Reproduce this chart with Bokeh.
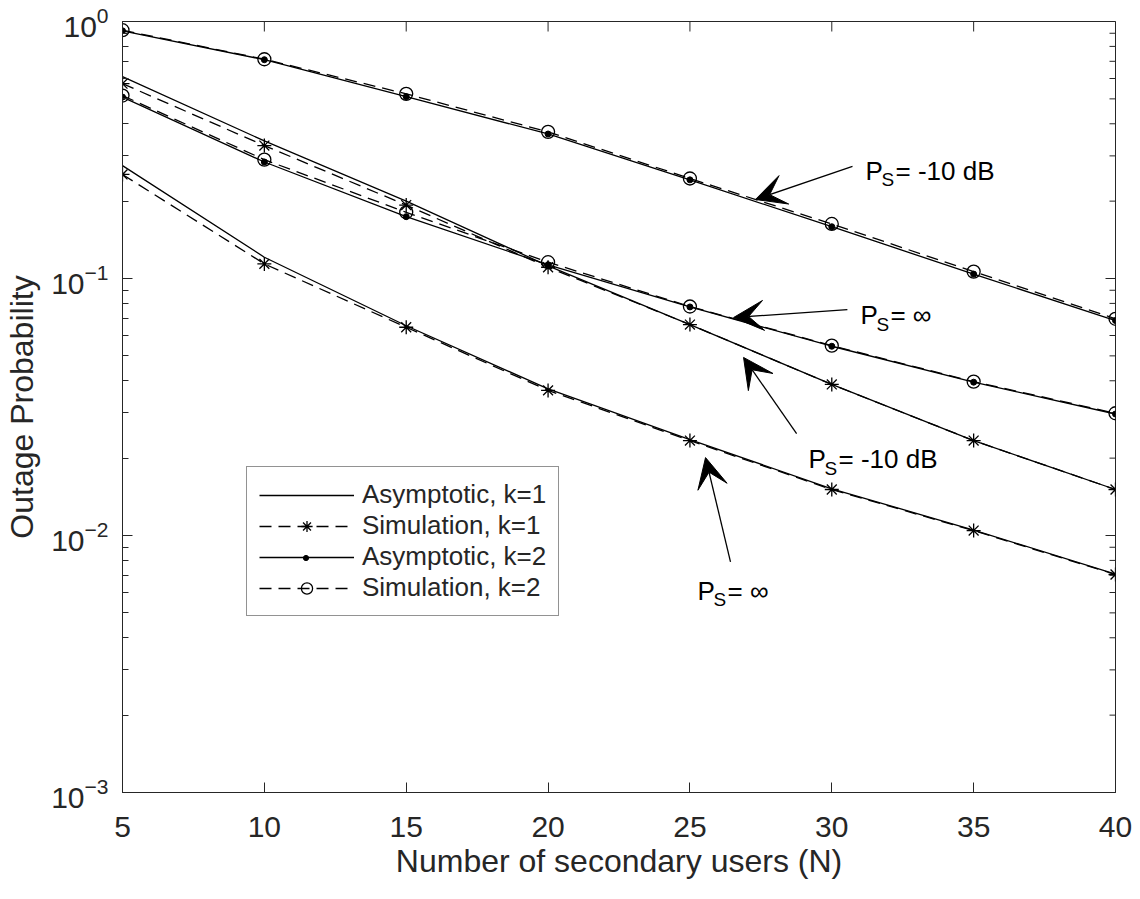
import math
from bokeh.plotting import figure
from bokeh.models import (FixedTicker, Arrow, VeeHead, Label, Legend, LegendItem, Range1d)
from bokeh.embed import file_html
from bokeh.resources import INLINE

# ---------------- data ----------------
N = [5, 10, 15, 20, 25, 30, 35, 40]

# k = 1, Ps = -10 dB
asym_k1_m10 = [0.61, 0.343, 0.200, 0.112, 0.0662, 0.0387, 0.0234, 0.0151]
sim_k1_m10 = [0.573, 0.329, 0.193, 0.1106, 0.0662, 0.0387, 0.0234, 0.0151]
# k = 1, Ps = inf
asym_k1_inf = [0.275, 0.121, 0.0655, 0.0372, 0.0236, 0.0152, 0.0105, 0.00708]
sim_k1_inf = [0.254, 0.114, 0.0646, 0.0367, 0.0234, 0.0151, 0.01045, 0.00705]
# k = 2, Ps = -10 dB
asym_k2_m10 = [0.92, 0.71, 0.51, 0.365, 0.242, 0.159, 0.104, 0.0686]
sim_k2_m10 = [0.925, 0.713, 0.523, 0.372, 0.245, 0.163, 0.1064, 0.0697]
# k = 2, Ps = inf
asym_k2_inf = [0.508, 0.284, 0.174, 0.113, 0.0775, 0.0545, 0.0395, 0.0297]
sim_k2_inf = [0.515, 0.290, 0.181, 0.1157, 0.0778, 0.0548, 0.0397, 0.0299]

x_ticks = [5, 10, 15, 20, 25, 30, 35, 40]
y_ticks = [1e-3, 1e-2, 1e-1, 1.0]
y_minor = [m * 10.0 ** e for e in (-3, -2, -1) for m in range(2, 10)]

legend_labels = ["Asymptotic, k=1", "Simulation, k=1", "Asymptotic, k=2", "Simulation, k=2"]

# ---------------- style ----------------
FONT = "Liberation Sans"
AX = "#262626"
LW = 1.3
DASH = "12 7"

p = figure(width=1140, height=899, x_range=Range1d(5, 40), y_range=Range1d(1e-3, 1.0),
           y_axis_type="log", output_backend="svg", toolbar_location=None,
           min_border_left=122, min_border_right=25, min_border_top=21,
           min_border_bottom=107, background_fill_color="white",
           border_fill_color="white")
p.grid.visible = False
p.outline_line_color = AX
p.outline_line_width = 1

for ax in p.xaxis + p.yaxis:
    ax.axis_line_color = AX
    ax.axis_line_width = 1
    ax.major_tick_line_color = AX
    ax.minor_tick_line_color = AX
    ax.major_tick_in = 10
    ax.major_tick_out = 0
    ax.minor_tick_in = 6
    ax.minor_tick_out = 0
    ax.major_label_text_color = AX
    ax.major_label_text_font = FONT
    ax.major_label_text_font_size = "30px"
    ax.axis_label_text_font = FONT
    ax.axis_label_text_color = AX
    ax.axis_label_text_font_style = "normal"
    ax.axis_label_text_font_size = "32px"

p.xaxis.ticker = FixedTicker(ticks=x_ticks, minor_ticks=[])
p.yaxis.ticker = FixedTicker(ticks=y_ticks, minor_ticks=y_minor)
p.xaxis.major_label_standoff = 24
p.yaxis.major_label_standoff = 14
p.xaxis.axis_label = "Number of secondary users (N)"
p.yaxis.axis_label = "Outage Probability"
p.xaxis.axis_label_standoff = 3
p.yaxis.axis_label_standoff = 8

# box ticks on the top and right edges (dash markers centred on the edge, clipped by the frame)
p.scatter(x_ticks, [1.0] * len(x_ticks), marker="dash", size=20, angle=math.pi / 2,
          line_color=AX, line_width=1)
p.scatter([40] * len(y_ticks), y_ticks, marker="dash", size=20,
          line_color=AX, line_width=1)
p.scatter([40] * len(y_minor), y_minor, marker="dash", size=12,
          line_color=AX, line_width=1)

# ---------------- curves ----------------
def asym_k1(y):
    return p.line(N, y, line_color="black", line_width=LW)

def sim_k1(y):
    l = p.line(N, y, line_color="black", line_width=LW, line_dash=DASH)
    s = p.scatter(N, y, marker="asterisk", size=14, line_color="black", line_width=1.3)
    return l, s

def asym_k2(y):
    l = p.line(N, y, line_color="black", line_width=LW)
    s = p.scatter(N, y, marker="circle", size=6, line_color="black", fill_color="black")
    return l, s

def sim_k2(y):
    l = p.line(N, y, line_color="black", line_width=LW, line_dash=DASH)
    s = p.scatter(N, y, marker="circle", size=13, line_color="black", fill_color=None,
                  line_width=1.3)
    return l, s

a1 = asym_k1(asym_k1_m10)
asym_k1(asym_k1_inf)
s1 = sim_k1(sim_k1_m10)
sim_k1(sim_k1_inf)
a2 = asym_k2(asym_k2_m10)
asym_k2(asym_k2_inf)
s2 = sim_k2(sim_k2_m10)
sim_k2(sim_k2_inf)

LEG_X, LEG_Y, PAD, GW = 124, 176, 12, 95
legend = Legend(items=[
    LegendItem(label=legend_labels[0], renderers=[a1]),
    LegendItem(label=legend_labels[1], renderers=list(s1)),
    LegendItem(label=legend_labels[2], renderers=[a2[0]]),
    LegendItem(label=legend_labels[3], renderers=list(s2)),
], location=(LEG_X, LEG_Y))
legend.label_text_font = FONT
legend.label_text_font_size = "26px"
legend.label_text_color = AX
legend.glyph_width = GW
legend.glyph_height = 28
legend.label_height = 28
legend.label_standoff = 8
legend.spacing = 0
legend.padding = PAD
legend.margin = 0
legend.border_line_color = AX
legend.border_line_width = 1
legend.background_fill_color = "white"
legend.background_fill_alpha = 1
p.add_layout(legend, "center")

# small dot key for "Asymptotic, k=2" (a second, borderless legend laid over the first)
DOT_BOX = 13
ROW = 31
dot_legend = Legend(items=[LegendItem(label="", renderers=[a2[1]])],
                    location=(LEG_X + PAD + GW / 2 - DOT_BOX / 2,
                              LEG_Y + PAD + 1.5 * ROW - DOT_BOX / 2))
dot_legend.glyph_width = DOT_BOX
dot_legend.glyph_height = DOT_BOX
dot_legend.label_height = DOT_BOX
dot_legend.label_width = 0
dot_legend.label_standoff = 0
dot_legend.label_text_font_size = "6px"
dot_legend.padding = 0
dot_legend.margin = 0
dot_legend.border_line_color = None
dot_legend.background_fill_alpha = 0
p.add_layout(dot_legend, "center")

# ---------------- annotations ----------------
def arrow(x0, y0, x1, y1):
    p.add_layout(Arrow(end=VeeHead(size=30, fill_color="black", line_color="black",
                                   line_width=1),
                       x_start=x0, y_start=y0, x_end=x1, y_end=y1,
                       line_color="black", line_width=1.3))

def ps_label(x, y, rest):
    for txt, dx, dy, fs in (("P", 0, 0, "26px"), ("S", 16, -9, "19px"), (rest, 30, 0, "26px")):
        p.add_layout(Label(x=x, y=y, text=txt, x_offset=dx, y_offset=dy,
                           text_font=FONT, text_font_size=fs, text_color="black",
                           text_baseline="alphabetic", text_align="left"))

arrow(30.73, 0.2728, 27.31, 0.203)
ps_label(31.19, 0.263, "= -10 dB")

arrow(30.55, 0.0757, 26.54, 0.0705)
ps_label(31.01, 0.0718, "= \u221e")

arrow(28.76, 0.0249, 26.89, 0.0493)
ps_label(29.18, 0.0198, "= -10 dB")

arrow(26.43, 0.0079, 25.55, 0.0201)
ps_label(25.27, 0.0061, "= \u221e")

open("out.html", "w").write(file_html(p, INLINE))
